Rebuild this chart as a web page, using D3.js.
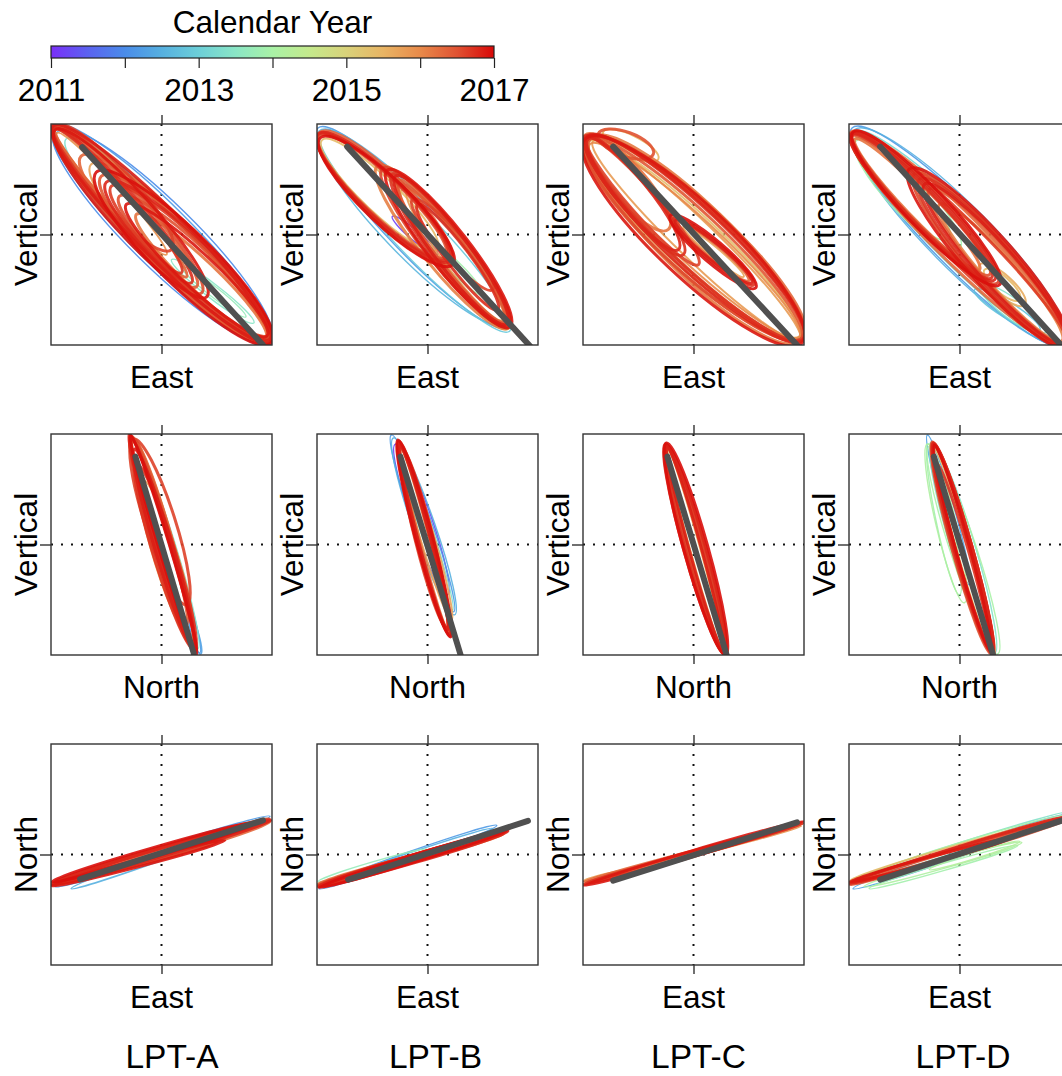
<!DOCTYPE html>
<html>
<head>
<meta charset="utf-8">
<script src="https://cdn.jsdelivr.net/npm/d3@7"></script>
<style>
  body { margin: 0; background: #fff; }
  text { font-family: "Liberation Sans", Arial, Helvetica, sans-serif; fill: #000; }
</style>
</head>
<body>
<svg id="chart" width="1062" height="1076"></svg>
<script>
// ---------------------------------------------------------------
// Particle-motion loops at four stations (LPT-A .. LPT-D).
// Units are normalised displacement, each panel spans -11..11.
// Each loop: [x1, y1, x2, y2, halfWidth, decimalYear]
//   (x1,y1)-(x2,y2) are the tips of the loop's long axis.
// ---------------------------------------------------------------
const stations = ["LPT-A", "LPT-B", "LPT-C", "LPT-D"];
const stationLabelX = [172, 435.5, 698.5, 963];
const rowAxes = [["East", "Vertical"], ["North", "Vertical"], ["East", "North"]];

// colour bar
const colorYears = [2011, 2011.5, 2012, 2012.5, 2013, 2013.5, 2014, 2014.5, 2015, 2015.5, 2016, 2016.5, 2017];
const colorHex   = ["#7a2ff8", "#5b62f0", "#4a8ce9", "#56b0e0", "#6ccfd8", "#8ae6c6", "#a9f2a6",
                    "#c4e98c", "#d9d27a", "#e8b464", "#e88a4a", "#e05232", "#d80808"];
const yearTicks  = [2011, 2012, 2013, 2014, 2015, 2016, 2017];
const yearLabels = [2011, 2013, 2015, 2017];

// --- East vs Vertical ---
const evA = [
  [-10.8, 10.8, 10.9, -10.9, 2.9, 2012.2], [-10.6, 10.4, 10.8, -10.6, 3.2, 2012.0],
  [-10.4, 10.2, 10.6, -10.8, 2.5, 2012.4], [-9.5, 9.5, 10.5, -10.2, 2.2, 2013.3],
  [1.0, -2.5, 9.2, -8.8, 0.7, 2013.5], [2.0, -3.2, 8.4, -8.2, 0.5, 2013.7],
  [-10.8, 10.7, 3.5, -5.2, 1.7, 2016.4], [-10.7, 10.5, 2.0, -3.8, 1.3, 2016.7],
  [-10.6, 10.4, 4.5, -6.2, 2.1, 2016.9], [-10.4, 10.1, 0.5, -2.0, 0.9, 2015.9],
  [-10.8, 10.9, 1.0, -1.5, 2.0, 2016.6], [-5.5, 5.2, 10.8, -10.4, 2.3, 2016.8],
  [-4.2, 3.8, 10.6, -10.0, 1.9, 2016.5], [-6.5, 6.2, 10.9, -10.8, 2.7, 2016.95],
  [-2.5, 2.0, 10.4, -10.3, 1.5, 2016.2], [-7.0, 7.0, 10.7, -10.6, 2.5, 2015.7],
  [-10.8, 10.8, 10.8, -10.7, 2.4, 2016.85], [-10.7, 10.7, 10.6, -10.5, 2.0, 2016.1],
  [-10.8, 10.6, 3.0, -4.8, 1.5, 2016.75], [-10.7, 10.8, 4.0, -5.8, 1.9, 2016.55],
  [-10.6, 10.5, 2.5, -4.2, 1.1, 2016.35], [-5.0, 4.8, 10.7, -10.3, 2.1, 2016.65],
  [-6.0, 5.8, 10.8, -10.6, 2.5, 2016.45], [-3.5, 3.0, 10.5, -10.1, 1.7, 2016.9],
  [-8.0, 7.8, 10.8, -10.7, 2.6, 2016.3]
];
const evB = [
  [-10.9, 10.6, 8.0, -9.2, 2.5, 2012.2], [-10.8, 10.3, 7.6, -8.8, 2.8, 2012.6],
  [-10.6, 10.0, 8.2, -9.6, 2.2, 2012.9], [-3.5, 1.8, 1.0, -2.0, 0.5, 2011.2],
  [-10.9, 10.0, 2.2, -2.6, 2.1, 2016.8], [-10.8, 9.8, 1.8, -2.2, 1.9, 2016.5],
  [-10.7, 9.6, 2.5, -3.0, 2.2, 2016.95], [-10.5, 9.4, 1.0, -1.5, 1.7, 2015.4],
  [-3.5, 6.0, 8.0, -9.0, 1.8, 2016.7], [-3.0, 5.4, 7.8, -8.8, 1.5, 2016.3],
  [-4.0, 6.4, 8.2, -9.2, 2.0, 2016.9], [-2.0, 4.4, 7.5, -8.5, 1.3, 2015.8],
  [-1.5, 3.5, 6.5, -5.5, 1.2, 2016.6], [-5.0, 6.8, 8.1, -9.3, 2.1, 2016.1],
  [-2.5, 4.5, 8.0, -9.4, 1.6, 2015.2], [0.5, -1.0, 5.5, -6.0, 0.6, 2013.9],
  [-10.9, 9.9, 2.0, -2.4, 2.0, 2016.7], [-10.8, 10.1, 2.3, -2.8, 2.3, 2016.4],
  [-3.2, 5.8, 7.9, -8.9, 1.7, 2016.85], [-2.8, 5.0, 7.7, -8.7, 1.4, 2016.45],
  [-4.5, 6.6, 8.1, -9.1, 1.9, 2016.6], [-1.0, 3.0, 7.0, -7.5, 1.1, 2016.75]
];
const evC = [
  [-10.8, 9.6, 10.9, -10.2, 3.4, 2016.3], [-10.7, 9.4, 10.8, -10.0, 3.1, 2015.6],
  [-10.6, 9.8, 10.9, -10.4, 2.8, 2016.7], [-10.5, 9.2, 10.7, -10.6, 2.5, 2015.3],
  [-10.8, 9.5, 10.8, -10.8, 3.6, 2016.9], [-10.3, 9.0, 10.5, -10.2, 2.2, 2016.0],
  [-10.0, 9.3, 10.6, -10.5, 1.9, 2015.8], [-10.7, 9.7, 0.5, -3.0, 1.3, 2016.6],
  [-10.5, 9.5, -1.5, -1.5, 1.5, 2016.8], [-10.8, 9.9, -2.5, 0.5, 1.8, 2016.2],
  [-9.5, 10.0, -4.0, 8.0, 1.2, 2016.5], [-9.0, 10.2, -3.5, 7.5, 1.0, 2015.5],
  [-2.0, 1.6, 6.0, -5.0, 0.9, 2016.7], [-1.5, 1.2, 5.5, -4.6, 0.7, 2016.3],
  [-1.0, 0.8, 5.0, -4.2, 0.5, 2015.7], [-2.3, 1.9, 6.2, -5.3, 1.1, 2016.95],
  [-10.7, 9.5, 10.8, -10.3, 3.3, 2016.55], [-10.6, 9.7, 10.9, -10.5, 3.0, 2016.8],
  [-10.4, 9.4, 10.7, -10.4, 2.6, 2016.45], [-10.8, 9.8, -1.0, -2.0, 1.6, 2016.75],
  [-1.8, 1.4, 5.8, -4.8, 0.8, 2016.85], [-10.2, 9.6, 10.6, -10.6, 3.5, 2016.15]
];
const evD = [
  [-10.7, 10.6, 10.6, -11.0, 2.9, 2012.2], [-10.5, 10.4, 10.5, -10.8, 3.1, 2012.5],
  [-10.6, 10.2, 10.4, -10.7, 2.6, 2013.2], [1.5, -5.5, 8.0, -9.5, 0.8, 2012.8],
  [2.0, -5.0, 8.5, -9.8, 1.0, 2013.4], [-10.5, 9.5, -1.0, -0.5, 1.6, 2014.1],
  [-10.3, 9.3, 0.0, -1.5, 1.9, 2013.9], [-10.8, 10.0, 3.5, -4.5, 1.8, 2016.8],
  [-10.7, 9.8, 3.0, -4.0, 1.5, 2016.5], [-10.6, 10.2, 4.0, -5.0, 2.0, 2016.95],
  [-10.4, 9.5, 2.0, -3.5, 1.2, 2016.2], [-4.0, 5.5, 10.6, -11.0, 2.1, 2016.7],
  [-3.0, 4.5, 10.5, -10.8, 1.8, 2016.4], [-5.0, 6.5, 10.8, -11.2, 2.4, 2016.9],
  [-2.0, 3.0, 10.2, -10.6, 1.5, 2016.1], [2.5, -3.5, 6.0, -6.5, 0.8, 2015.4],
  [2.0, -3.0, 6.5, -7.0, 1.0, 2015.6], [-10.8, 10.1, 3.8, -4.8, 1.9, 2016.6],
  [-10.7, 9.9, 3.2, -4.3, 1.6, 2016.75], [-4.5, 6.0, 10.7, -11.1, 2.2, 2016.55],
  [-3.5, 5.0, 10.6, -10.9, 1.9, 2016.85], [-10.8, 10.2, 10.7, -11.0, 2.4, 2016.3],
  [-10.6, 10.0, 10.6, -10.9, 2.0, 2016.65]
];

// --- North vs Vertical ---
const nvA = [
  [-3.0, 10.8, 3.8, -10.8, 0.8, 2012.2], [-3.0, 10.6, 3.6, -10.4, 1.0, 2013.4],
  [-3.2, 11.0, 3.4, -10.6, 0.7, 2016.8], [-3.0, 10.8, 3.2, -10.4, 0.9, 2016.5],
  [-3.1, 10.9, 3.5, -10.9, 0.55, 2016.95], [-2.8, 10.5, 3.0, -10.0, 1.0, 2016.2],
  [-2.5, 8.0, 3.3, -10.5, 1.1, 2016.7], [-3.1, 10.7, 2.5, -8.0, 0.8, 2016.4],
  [-2.0, 6.5, 3.0, -9.5, 1.2, 2015.9], [-2.8, 10.5, 2.5, -6.0, 1.5, 2016.6],
  [2.8, -7.0, 3.9, -10.9, 0.35, 2012.3], [-3.1, 10.8, 3.3, -10.5, 0.8, 2016.6],
  [-3.0, 10.7, 3.4, -10.7, 0.6, 2016.75], [-2.9, 10.6, 3.1, -10.2, 1.0, 2016.35],
  [-2.7, 9.5, 3.2, -10.3, 0.9, 2016.85]
];
const nvB = [
  [-3.6, 10.9, 2.6, -6.7, 0.9, 2012.2], [-3.4, 10.6, 2.7, -7.0, 1.1, 2012.5],
  [-3.2, 10.0, 2.0, -5.0, 1.0, 2011.2], [-3.0, 10.2, 2.5, -6.5, 0.6, 2013.3],
  [-2.9, 10.2, 2.2, -9.0, 0.75, 2016.8], [-2.8, 10.0, 2.0, -8.6, 0.65, 2016.5],
  [-2.95, 10.4, 2.3, -9.2, 0.85, 2016.95], [-2.7, 9.8, 2.1, -8.8, 0.5, 2016.2],
  [-2.6, 9.6, 1.9, -8.3, 0.9, 2016.6], [-2.8, 10.1, 2.4, -7.5, 0.7, 2015.7],
  [-2.85, 10.3, 2.25, -9.1, 0.8, 2016.7], [-2.9, 10.1, 2.1, -8.7, 0.7, 2016.4],
  [-2.75, 9.9, 2.0, -8.5, 0.6, 2016.85]
];
const nvC = [
  [-2.7, 9.8, 3.0, -10.8, 0.9, 2016.6], [-2.8, 10.0, 3.1, -10.9, 1.1, 2016.8],
  [-2.6, 9.6, 2.9, -10.6, 0.7, 2016.2], [-2.7, 9.9, 3.0, -10.7, 0.5, 2015.6],
  [-2.5, 9.5, 2.8, -10.4, 0.6, 2015.3], [-2.7, 10.1, 3.2, -11.0, 1.2, 2016.95],
  [-2.6, 9.7, 3.0, -10.5, 0.8, 2016.4], [-2.7, 9.9, 3.05, -10.75, 1.0, 2016.7],
  [-2.75, 10.0, 3.1, -10.85, 0.8, 2016.5], [-2.65, 9.8, 3.0, -10.7, 0.6, 2016.85]
];
const nvD = [
  [-3.2, 10.9, 1.0, -4.0, 0.6, 2012.3], [-3.2, 10.0, 0.5, -5.8, 1.0, 2014.1],
  [-3.0, 9.8, 3.8, -10.9, 1.3, 2014.0], [-3.1, 10.0, 0.0, -5.0, 0.8, 2013.9],
  [-2.8, 10.2, 3.5, -10.8, 1.2, 2013.4], [-2.5, 9.5, 3.2, -10.5, 0.6, 2015.4],
  [-2.6, 10.1, 3.3, -10.8, 0.9, 2016.8], [-2.7, 10.2, 3.2, -10.9, 1.0, 2016.5],
  [-2.5, 9.9, 3.1, -10.6, 0.7, 2016.95], [-2.6, 10.0, 3.4, -11.0, 0.8, 2016.2],
  [-2.2, 8.0, 3.0, -10.2, 0.6, 2016.7], [-2.65, 10.1, 3.25, -10.85, 0.95, 2016.6],
  [-2.6, 10.0, 3.3, -10.9, 0.85, 2016.75], [-2.55, 9.95, 3.2, -10.7, 0.75, 2016.4]
];

// --- East vs North ---
const enA = [
  [-10.6, -3.2, 10.8, 3.8, 0.5, 2012.2], [-9.0, -3.4, 10.5, 3.6, 0.4, 2012.5],
  [-10.8, -3.0, 10.9, 3.5, 0.35, 2013.3], [-10.9, -3.0, 10.9, 3.4, 0.4, 2016.8],
  [-10.9, -2.8, 10.7, 3.6, 0.3, 2016.5], [-10.9, -3.1, 6.3, 1.4, 0.35, 2016.9],
  [-10.8, -2.9, 10.8, 3.3, 0.55, 2016.3], [-10.9, -2.7, 9.5, 3.2, 0.45, 2016.95],
  [-10.9, -3.0, 5.5, 1.2, 0.25, 2016.6], [-10.9, -2.9, 10.8, 3.5, 0.35, 2016.7],
  [-10.9, -3.0, 10.6, 3.3, 0.25, 2016.4]
];
const enB = [
  [-10.8, -3.4, 6.9, 2.9, 0.45, 2012.2], [-10.6, -3.2, 6.5, 2.6, 0.35, 2012.5],
  [-10.9, -2.7, 0.0, 0.5, 0.35, 2013.7], [0.0, 0.2, 5.5, 1.6, 0.2, 2011.2],
  [-10.9, -3.2, 8.0, 2.3, 0.4, 2016.8], [-10.9, -3.0, 7.8, 2.2, 0.3, 2016.5],
  [-10.8, -3.3, 8.1, 2.5, 0.35, 2016.95], [-10.9, -2.9, 7.5, 2.0, 0.3, 2016.2],
  [-10.7, -3.1, 8.3, 2.6, 0.3, 2015.6], [-10.9, -3.1, 7.9, 2.4, 0.3, 2016.7]
];
const enC = [
  [-10.9, -2.9, 10.9, 3.1, 0.25, 2016.7], [-10.9, -2.7, 10.8, 3.0, 0.2, 2016.3],
  [-10.9, -3.1, 10.9, 3.3, 0.3, 2016.9], [-10.9, -2.6, -5.0, -1.3, 0.2, 2015.8],
  [-10.8, -2.8, 10.7, 2.8, 0.2, 2015.9], [-10.9, -3.0, 10.9, 3.2, 0.2, 2016.5]
];
const enD = [
  [-10.6, -3.4, 10.8, 4.0, 0.5, 2012.3], [-10.8, -2.7, 10.8, 4.2, 0.4, 2013.4],
  [-10.9, -2.8, 10.9, 3.9, 0.6, 2014.0], [-9.5, -3.2, 6.2, 1.2, 0.4, 2014.1],
  [-9.0, -3.4, 5.8, 0.9, 0.35, 2013.9], [-3.0, -1.5, 6.0, 1.3, 0.3, 2014.2],
  [-10.9, -2.6, 10.9, 3.7, 0.45, 2015.4], [-10.9, -2.9, 10.9, 3.8, 0.35, 2016.8],
  [-10.9, -3.0, 10.8, 3.5, 0.3, 2016.5], [-10.9, -2.7, 5.0, 1.6, 0.3, 2016.9],
  [-10.9, -2.8, 10.9, 3.7, 0.3, 2016.7]
];

// principal-axis segments [x1, y1, x2, y2]
const axisEV = [[-7.9, 8.7, 10.1, -11.0], [-8.0, 8.75, 10.2, -11.1], [-8.0, 8.75, 10.3, -11.0], [-7.9, 8.75, 10.3, -11.2]];
const axisNV = [[-2.6, 8.75, 3.2, -10.8], [-2.7, 8.75, 3.3, -11.0], [-2.6, 8.75, 3.3, -11.0], [-2.55, 8.75, 3.35, -11.0]];
const axisEN = [[-8.1, -2.46, 10.1, 3.4], [-7.9, -2.5, 10.0, 3.35], [-8.0, -2.6, 10.3, 3.2], [-7.9, -2.5, 10.4, 3.45]];

const loopRows = [[evA, evB, evC, evD], [nvA, nvB, nvC, nvD], [enA, enB, enC, enD]];
const axisRows = [axisEV, axisNV, axisEN];

// ---------------------------------------------------------------
const svg = d3.select("#chart");
const size = 221;
const colLeft = [51, 317, 583, 849];
const rowTop = [124, 434, 744];
const extent = [-11, 11];
const fontSize = 31.5;

const color = d3.scaleLinear().domain(colorYears).range(colorHex).interpolate(d3.interpolateRgb).clamp(true);

// ---- colour bar ----
const barX = d3.scaleLinear().domain([2011, 2017]).range([51, 494]);
const defs = svg.append("defs");
const grad = defs.append("linearGradient").attr("id", "yearGrad");
colorYears.forEach((yr, i) => {
  grad.append("stop").attr("offset", (yr - 2011) / 6).attr("stop-color", colorHex[i]);
});
svg.append("rect").attr("x", barX(2011)).attr("y", 46).attr("width", barX(2017) - barX(2011)).attr("height", 12)
  .attr("fill", "url(#yearGrad)").attr("stroke", "#222").attr("stroke-width", 1.2);
const barAxis = svg.append("g").attr("transform", "translate(0,58)")
  .call(d3.axisBottom(barX).tickValues(yearTicks).tickSize(10).tickPadding(11)
    .tickFormat(d => yearLabels.includes(d) ? String(d) : ""));
barAxis.select(".domain").remove();
barAxis.selectAll("line").attr("stroke", "#222").attr("stroke-width", 1.2);
barAxis.selectAll("text").style("font-size", fontSize + "px").style("font-family", "Liberation Sans, Arial, sans-serif").attr("fill", "#000");
svg.append("text").attr("x", barX(2014)).attr("y", 33).attr("text-anchor", "middle")
  .style("font-size", fontSize + "px").text("Calendar Year");

// stroke weight by epoch: recent loops dominate the bands
const strokeFor = yr => yr > 2016 ? 3 : (yr > 2015 ? 2 : 1.4);

// ---- panels ----
loopRows.forEach((row, r) => {
  row.forEach((loops, c) => {
    const x = d3.scaleLinear().domain(extent).range([0, size]);
    const y = d3.scaleLinear().domain(extent).range([size, 0]);
    const g = svg.append("g").attr("transform", `translate(${colLeft[c]},${rowTop[r]})`);
    const clipId = `clip-${r}-${c}`;
    defs.append("clipPath").attr("id", clipId).append("rect").attr("width", size).attr("height", size);

    // dotted zero lines
    g.append("line").attr("x1", 0).attr("x2", size).attr("y1", y(0)).attr("y2", y(0))
      .attr("stroke", "#111").attr("stroke-width", 2).attr("stroke-dasharray", "2 8");
    g.append("line").attr("y1", 0).attr("y2", size).attr("x1", x(0)).attr("x2", x(0))
      .attr("stroke", "#111").attr("stroke-width", 2).attr("stroke-dasharray", "2 8");

    const plot = g.append("g").attr("clip-path", `url(#${clipId})`);
    const sorted = loops.slice().sort((a, b) => a[5] - b[5]);
    plot.selectAll("ellipse").data(sorted).join("ellipse")
      .attr("cx", d => x((d[0] + d[2]) / 2))
      .attr("cy", d => y((d[1] + d[3]) / 2))
      .attr("rx", d => Math.hypot(x(d[2]) - x(d[0]), y(d[3]) - y(d[1])) / 2)
      .attr("ry", d => x(d[4]) - x(0))
      .attr("transform", d => {
        const ang = Math.atan2(y(d[3]) - y(d[1]), x(d[2]) - x(d[0])) * 180 / Math.PI;
        return `rotate(${ang} ${x((d[0] + d[2]) / 2)} ${y((d[1] + d[3]) / 2)})`;
      })
      .attr("fill", "none")
      .attr("stroke", d => color(d[5]))
      .attr("stroke-width", d => strokeFor(d[5]))
      .attr("stroke-opacity", 0.9);

    // principal axis
    const seg = axisRows[r][c];
    plot.append("path")
      .attr("d", d3.line().x(p => x(p[0])).y(p => y(p[1]))([[seg[0], seg[1]], [seg[2], seg[3]]]))
      .attr("stroke", "#505050").attr("stroke-width", 6).attr("stroke-linecap", "round").attr("fill", "none");

    // frame and zero ticks
    g.append("rect").attr("width", size).attr("height", size)
      .attr("fill", "none").attr("stroke", "#333").attr("stroke-width", 1.4);
    [d3.axisTop(x), d3.axisBottom(x)].forEach((ax, i) => {
      const a = g.append("g").attr("transform", `translate(0,${i ? size : 0})`)
        .call(ax.tickValues([0]).tickSize(9).tickFormat(""));
      a.select(".domain").remove();
      a.selectAll("line").attr("stroke", "#333").attr("stroke-width", 1.4);
    });
    const al = g.append("g").call(d3.axisLeft(y).tickValues([0]).tickSize(11).tickFormat(""));
    al.select(".domain").remove();
    al.selectAll("line").attr("stroke", "#333").attr("stroke-width", 1.4);

    // axis titles
    g.append("text").attr("x", size / 2).attr("y", size + 43).attr("text-anchor", "middle")
      .style("font-size", fontSize + "px").text(rowAxes[r][0]);
    g.append("text").attr("transform", `translate(-14,${size / 2}) rotate(-90)`).attr("text-anchor", "middle")
      .style("font-size", fontSize + "px").text(rowAxes[r][1]);
  });
});

// station names
stations.forEach((s, c) => {
  svg.append("text").attr("x", stationLabelX[c]).attr("y", 1068).attr("text-anchor", "middle")
    .style("font-size", "33.5px").text(s);
});
</script>
</body>
</html>
